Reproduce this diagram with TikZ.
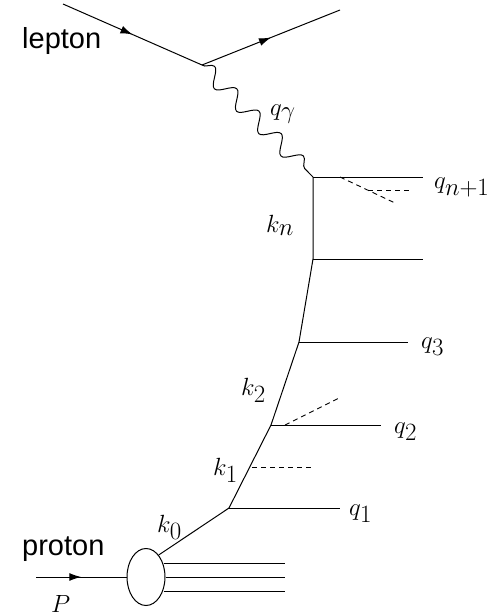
\documentclass[tikz,border=0pt]{standalone}
\usepackage{fontspec}
\newfontfamily\lblsans{Liberation Sans}
\usetikzlibrary{decorations.pathmorphing,decorations.markings,arrows.meta,shapes.geometric}
\begin{document}
\begin{tikzpicture}[x=1pt,y=-1pt,
  line/.style={line width=1pt},
  dsh/.style={line width=0.9pt,dash pattern=on 5pt off 4pt},
  fermion/.style={line width=1pt,postaction={decorate},decoration={markings,mark=at position 0.5 with {\arrow{Latex[length=12pt,width=8pt]}}}},
  photon/.style={line width=1pt,decorate,decoration={snake,amplitude=8pt,segment length=31.54pt,pre length=0pt,post length=0pt}},
  lbl/.style={inner sep=0pt,anchor=base west,font=\fontsize{34}{40}\selectfont},
  slbl/.style={inner sep=0pt,anchor=base west,font=\fontsize{29}{34}\selectfont\lblsans}]
\useasboundingbox (0,0) rectangle (494,616);
% lepton
\coordinate (lin) at (63,4);
\coordinate (lv) at (202,65);
\coordinate (lout) at (340,10);
\draw[fermion] (lin) -- (lv);
\draw[fermion] (lv) -- (lout);
\node[slbl] (lep) at (22,48) {lepton};
% ladder vertices
\coordinate (vn1) at (313,177);
\coordinate (vn) at (313,259);
\coordinate (v3) at (299,342);
\coordinate (v2) at (271,425);
\coordinate (v1) at (229,508);
\draw[photon] (lv) -- (vn1);
\node[lbl] (qg) at (270,115) {$q_\gamma$};
% outgoing
\coordinate (en1) at (423,177);
\coordinate (en) at (423,259);
\coordinate (e3) at (408,342);
\coordinate (e2) at (381,425);
\coordinate (e1) at (340,508);
\draw[line] (vn1) -- (en1);
\draw[line] (vn) -- (en);
\draw[line] (v3) -- (e3);
\draw[line] (v2) -- (e2);
\draw[line] (v1) -- (e1);
% spine
\draw[line] (vn1) -- (vn) -- (v3) -- (v2) -- (v1);
% dashed
\coordinate (d1a) at (340,177);
\coordinate (d1b) at (395,203);
\coordinate (d2a) at (368,190);
\coordinate (d2b) at (410,190);
\coordinate (d3a) at (285,425);
\coordinate (d3b) at (341,397);
\coordinate (d4a) at (252,467);
\coordinate (d4b) at (312,467);
\draw[dsh] (d1a) -- (d1b);
\draw[dsh] (d2a) -- (d2b);
\draw[dsh] (d3a) -- (d3b);
\draw[dsh] (d4a) -- (d4b);
% labels
\node[lbl] (lqn1) at (434,188) {$q_{n+1}$};
\node[lbl] (lkn) at (266,232) {$k_n$};
\node[lbl] (lq3) at (421,348) {$q_3$};
\node[lbl] (lk2) at (241,395) {$k_2$};
\node[lbl] (lq2) at (394,433) {$q_2$};
\node[lbl] (lk1) at (213,475) {$k_1$};
\node[lbl] (lq1) at (349,515) {$q_1$};
\node[lbl] (lk0) at (157,532) {$k_0$};
% proton
\node[draw,line width=1pt,ellipse,minimum width=38pt,minimum height=57pt,inner sep=0pt] (blob) at (146,577) {};
\coordinate (pin) at (36,577);
\draw[fermion] (pin) -- (blob.west);
\draw[line] (blob.60) -- (v1);
\coordinate (r1) at (285,563);
\coordinate (r2) at (285,577);
\coordinate (r3) at (285,591);
\draw[line] (blob.east |- r1) ++(-2,0) -- (r1);
\draw[line] (blob.east) -- (r2);
\draw[line] (blob.east |- r3) ++(-2,0) -- (r3);
\node[slbl] (prot) at (22,555) {proton};
\node[lbl] (lP) at (51,612) {$P$};
\end{tikzpicture}
\end{document}
